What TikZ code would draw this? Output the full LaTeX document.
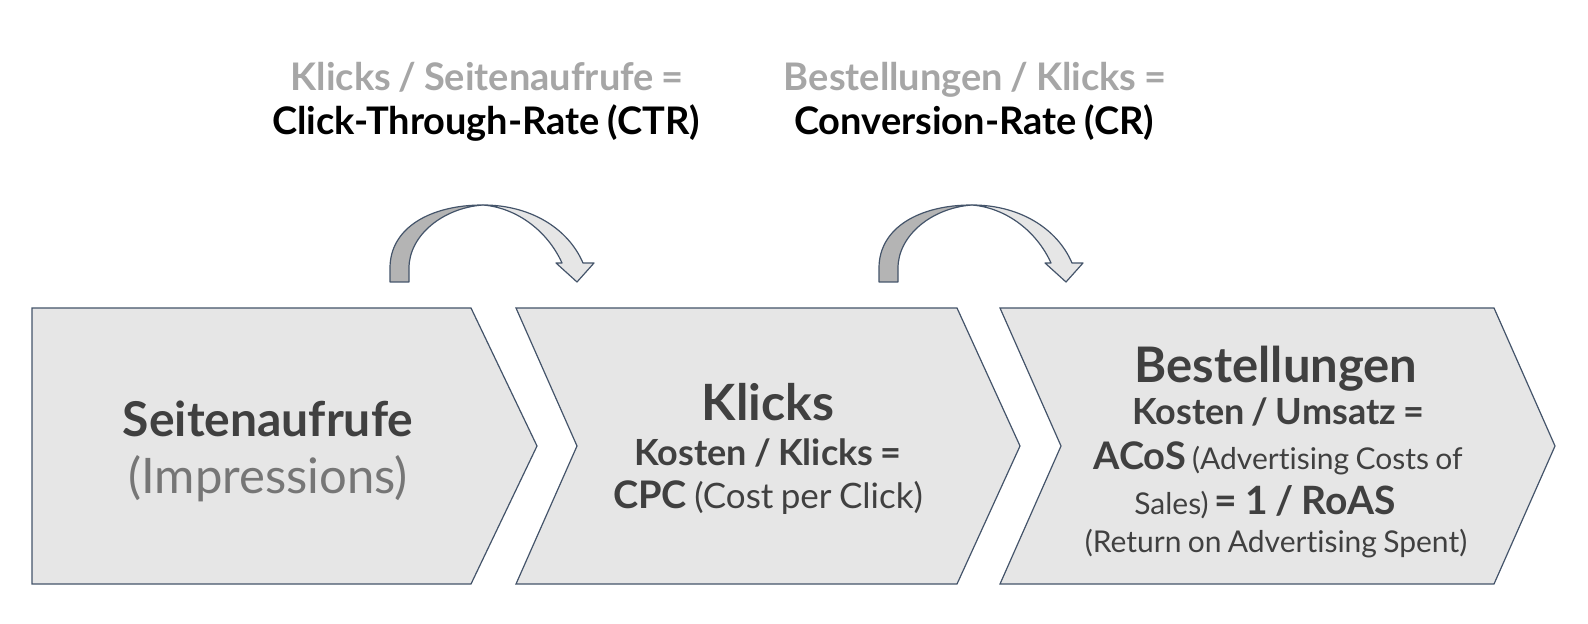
\documentclass[tikz,border=0pt]{standalone}
\usepackage{fontspec}
\setmainfont{Lato}[WordSpace=0.82, Ligatures=NoCommon]
\usepackage{xcolor}
\usetikzlibrary{positioning}
\definecolor{chevfill}{RGB}{230,230,230}
\definecolor{edgeblue}{RGB}{68,84,106}
\definecolor{textdark}{RGB}{64,64,64}
\definecolor{textmid}{RGB}{118,118,118}
\definecolor{textlight}{RGB}{166,166,166}
\definecolor{arrowdark}{RGB}{180,180,180}
\tikzset{
  stage/.style={draw=edgeblue, line width=0.6pt, fill=chevfill, line join=miter},
  curlarrow/.style={draw=edgeblue, line width=0.6pt, line join=round},
  title/.style={anchor=base, text=textdark, font=\bfseries\fontsize{25}{29}\selectfont, inner sep=0pt},
  sub/.style={anchor=base, text=textdark, font=\fontsize{17.5}{21}\selectfont, inner sep=0pt},
  rate/.style={anchor=base, font=\bfseries\fontsize{19}{22}\selectfont, inner sep=0pt},
}

\begin{document}
\begin{tikzpicture}[x=0.5pt, y=-0.5pt]
  \useasboundingbox (0,0) rectangle (1588,624);

  % Stages
  \draw[stage] (32,308) -- (471,308) -- (537,446) -- (471,584) -- (32,584) -- cycle;
  \draw[stage] (516,308) -- (957,308) -- (1020,446) -- (957,584) -- (516,584) -- (577,446) -- cycle;
  \draw[stage] (1000,308) -- (1494,308) -- (1555,446) -- (1494,584) -- (1000,584) -- (1061,446) -- cycle;

  % Curved arrows
  \foreach \dx in {0,489} {
    \begin{scope}[shift={(\dx,0)}]
      \draw[curlarrow, fill=arrowdark] (390,282) -- (390,268)
        .. controls (390,228) and (430,205) .. (483,205)
        .. controls (442,208) and (409,236) .. (409,268) -- (409,282) -- cycle;
      \draw[curlarrow, fill=chevfill] (483,205)
        .. controls (530,205) and (568,228) .. (583,263) -- (594,263) -- (577,282)
        -- (556,263) -- (562,263)
        .. controls (548,232) and (518,208) .. (483,205) -- cycle;
    \end{scope}
  }

  % Rates above
  \node[rate, text=textlight] (ctrdef) at (487,91) {Klicks / Seitenaufrufe =};
  \node[rate, text=black] (ctr) at (486,135) {Click-Through-Rate (CTR)};
  \node[rate, text=textlight] (crdef) at (975,91) {Bestellungen / Klicks =};
  \node[rate, text=black] (cr) at (974,135) {Conversion-Rate (CR)};

  % Stage 1
  \node[title, font=\bfseries\fontsize{24}{28}\selectfont] (views) at (268,437) {Seitenaufrufe};
  \node[sub, text=textmid, font=\fontsize{24.5}{28}\selectfont] (impr) at (268,493) {(Impressions)};

  % Stage 2
  \node[title] (clicks) at (768,421) {Klicks};
  \node[title, font=\bfseries\fontsize{18}{21}\selectfont] (cpcdef) at (768,466) {Kosten / Klicks =};
  \node[sub] (cpc) at (768,509) {\textbf{\fontsize{19}{22}\selectfont CPC} (Cost per Click)};

  % Stage 3
  \node[title, font=\bfseries\fontsize{24.5}{28}\selectfont] (orders) at (1276,383) {Bestellungen};
  \node[title, font=\bfseries\fontsize{18}{21}\selectfont] (acosdef) at (1278,425) {Kosten / Umsatz =};
  \node[sub, font=\fontsize{15}{18}\selectfont] (acos) at (1278,469)
    {\textbf{\fontsize{19}{22}\selectfont ACoS} (Advertising Costs of};
  \node[sub, font=\fontsize{15}{18}\selectfont] (roas) at (1265,514)
    {Sales) \textbf{\fontsize{19.5}{22}\selectfont = 1 / RoAS}};
  \node[sub, font=\fontsize{15}{18}\selectfont] (roasdef) at (1276,552)
    {(Return on Advertising Spent)};
\end{tikzpicture}
\end{document}
